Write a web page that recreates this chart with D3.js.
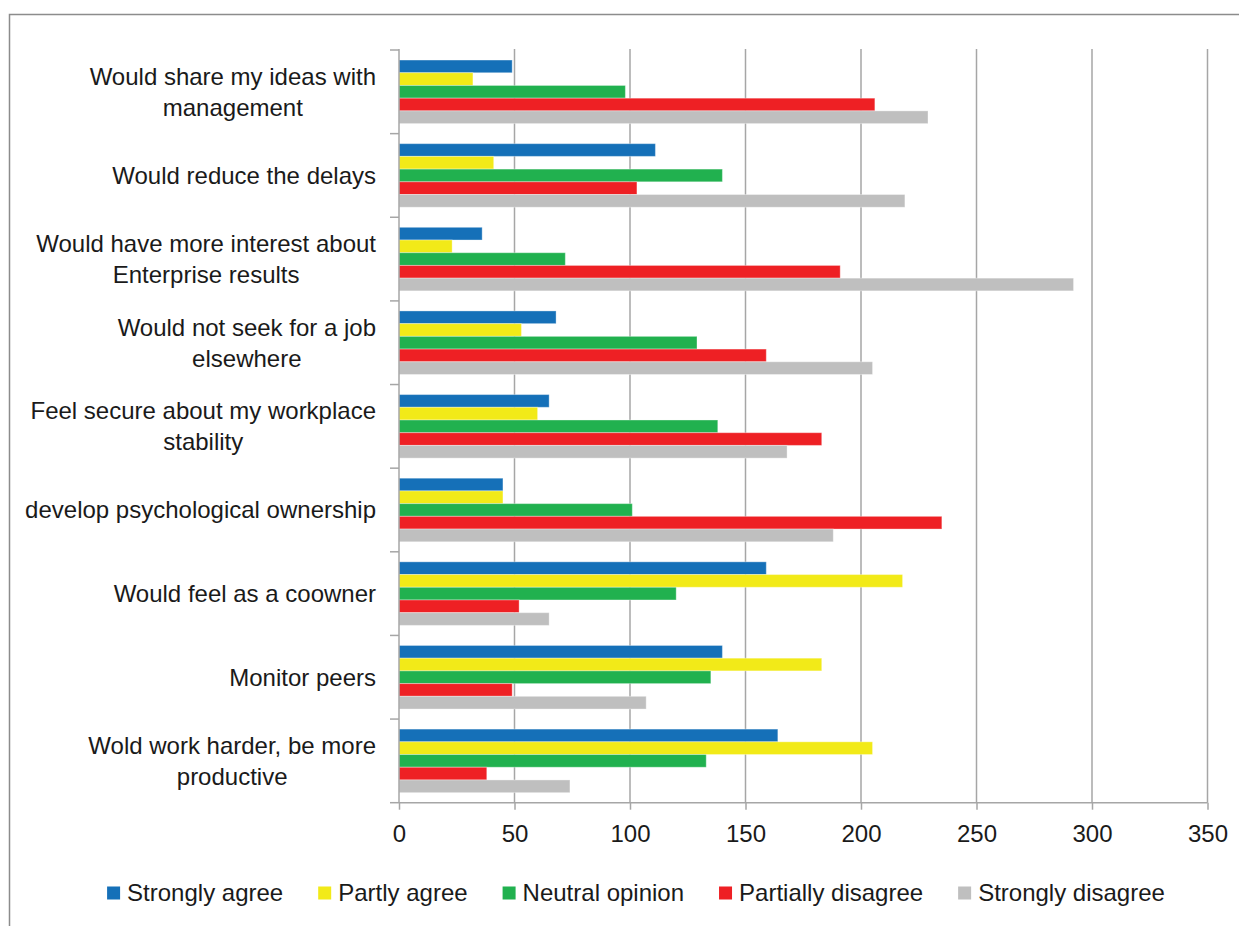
<!DOCTYPE html>
<html>
<head>
<meta charset="utf-8">
<script src="https://cdn.jsdelivr.net/npm/d3@7/dist/d3.min.js"></script>
<style>
  body { margin: 0; background: #fff; }
  svg { display: block; font-family: "Liberation Sans", Arial, sans-serif; }
</style>
</head>
<body>
<div id="chart"></div>
<script>
// categories, top to bottom (each entry = the lines of the label)
var categories = [
  ["Would share my ideas with", "management"],
  ["Would reduce the delays"],
  ["Would have more interest about", "Enterprise results"],
  ["Would not seek for a job", "elsewhere"],
  ["Feel secure about my workplace", "stability"],
  ["develop psychological ownership"],
  ["Would feel as a coowner"],
  ["Monitor peers"],
  ["Wold work harder, be more", "productive"]
];

var seriesNames = ["Strongly agree", "Partly agree", "Neutral opinion", "Partially disagree", "Strongly disagree"];
var seriesColors = ["#1570b8", "#f2ea18", "#21b14f", "#ee2024", "#bfbfbf"];

var stronglyAgree     = [49, 111, 36, 68, 65, 45, 159, 140, 164];
var partlyAgree       = [32, 41, 23, 53, 60, 45, 218, 183, 205];
var neutralOpinion    = [98, 140, 72, 129, 138, 101, 120, 135, 133];
var partiallyDisagree = [206, 103, 191, 159, 183, 235, 52, 49, 38];
var stronglyDisagree  = [229, 219, 292, 205, 168, 188, 65, 107, 74];

var xTicks = [0, 50, 100, 150, 200, 250, 300, 350];

var seriesValues = [stronglyAgree, partlyAgree, neutralOpinion, partiallyDisagree, stronglyDisagree];

var w = 1239;
var h = 926;
var fontSize = 24;

var svg = d3.select("#chart")
  .append("svg")
  .attr("width", w)
  .attr("height", h);

// outer frame
svg.append("rect")
  .attr("x", 9.5)
  .attr("y", 14.5)
  .attr("width", w + 20)
  .attr("height", h + 20)
  .attr("fill", "none")
  .attr("stroke", "#8c8c8c")
  .attr("stroke-width", 1.5);

var catIds = categories.map(function(d, i) { return i; });

var xScale = d3.scaleLinear()
  .domain([0, 350])
  .range([399, 1207.5]);

var yScale = d3.scaleBand()
  .domain(catIds)
  .range([50, 802.7])
  .paddingInner(0.24)
  .paddingOuter(0.12);

var step = yScale.step();

var subScale = d3.scaleBand()
  .domain(d3.range(seriesNames.length))
  .range([0, yScale.bandwidth()]);

//gridlines

svg.append("g")
  .selectAll("line")
  .data(xTicks.slice(1))
  .enter()
  .append("line")
  .attr("x1", function(d) { return xScale(d); })
  .attr("x2", function(d) { return xScale(d); })
  .attr("y1", 49)
  .attr("y2", 802.7)
  .attr("stroke", "#a6a6a6")
  .attr("stroke-width", 1.5);

//bars

var groups = svg.append("g")
  .selectAll("g")
  .data(catIds)
  .enter()
  .append("g")
  .attr("transform", function(d) { return "translate(0," + yScale(d) + ")"; });

groups.selectAll("rect")
  .data(function(c) {
    return seriesValues.map(function(vals, s) { return {s: s, v: vals[c]}; });
  })
  .enter()
  .append("rect")
  .attr("x", xScale(0))
  .attr("y", function(d) { return subScale(d.s); })
  .attr("width", function(d) { return xScale(d.v) - xScale(0); })
  .attr("height", subScale.bandwidth())
  .attr("fill", function(d) { return seriesColors[d.s]; })
  .attr("stroke", "rgba(255,255,255,0.35)")
  .attr("stroke-width", 1);

//axes

var xAxis = d3.axisBottom(xScale)
  .tickValues(xTicks)
  .tickSize(7)
  .tickPadding(15);

var gx = svg.append("g")
  .attr("transform", "translate(0,802.7)")
  .call(xAxis);

gx.select(".domain").attr("stroke", "#a6a6a6").attr("stroke-width", 1.5)
  .attr("d", "M" + xScale(0) + ",0H" + xScale(350));
gx.selectAll(".tick line").attr("stroke", "#a6a6a6").attr("stroke-width", 1.5);
gx.selectAll(".tick text")
  .attr("fill", "#1a1a1a")
  .style("font-size", fontSize + "px")
  .style("font-family", "'Liberation Sans', Arial, sans-serif");

// category axis: line plus ticks at the category boundaries
var gy = svg.append("g");

gy.append("line")
  .attr("x1", xScale(0))
  .attr("x2", xScale(0))
  .attr("y1", 49)
  .attr("y2", 802.7)
  .attr("stroke", "#a6a6a6")
  .attr("stroke-width", 1.5);

gy.selectAll("line.cat-tick")
  .data(d3.range(categories.length + 1))
  .enter()
  .append("line")
  .attr("class", "cat-tick")
  .attr("x1", xScale(0) - 9)
  .attr("x2", xScale(0))
  .attr("y1", function(i) { return 50 + i * step; })
  .attr("y2", function(i) { return 50 + i * step; })
  .attr("stroke", "#a6a6a6")
  .attr("stroke-width", 1.5);

// category labels, lines centred on each other, block right-aligned
var lineH = 31;
var labelRight = 376;

categories.forEach(function(lines, i) {
  var cy = yScale(i) + yScale.bandwidth() / 2;
  var g = svg.append("g");
  var texts = lines.map(function(t, j) {
    return g.append("text")
      .attr("y", cy + (j - (lines.length - 1) / 2) * lineH)
      .attr("dy", "0.35em")
      .attr("text-anchor", "middle")
      .attr("fill", "#1a1a1a")
      .style("font-size", fontSize + "px")
      .text(t);
  });
  var maxW = d3.max(texts, function(t) { return t.node().getComputedTextLength(); });
  texts.forEach(function(t) { t.attr("x", labelRight - maxW / 2); });
});

//legend

var legend = svg.append("g");
var sq = 13;
var items = seriesNames.map(function(name, i) {
  var g = legend.append("g");
  g.append("rect")
    .attr("y", 893 - sq / 2)
    .attr("width", sq)
    .attr("height", sq)
    .attr("fill", seriesColors[i]);
  var t = g.append("text")
    .attr("x", sq + 7)
    .attr("y", 893)
    .attr("dy", "0.35em")
    .attr("fill", "#1a1a1a")
    .style("font-size", fontSize + "px")
    .text(name);
  return {g: g, w: sq + 7 + t.node().getComputedTextLength()};
});

var gap = 35;
var total = d3.sum(items, function(d) { return d.w; }) + gap * (items.length - 1);
var lx = 636 - total / 2;
items.forEach(function(it) {
  it.g.attr("transform", "translate(" + lx + ",0)");
  lx += it.w + gap;
});
</script>
</body>
</html>
